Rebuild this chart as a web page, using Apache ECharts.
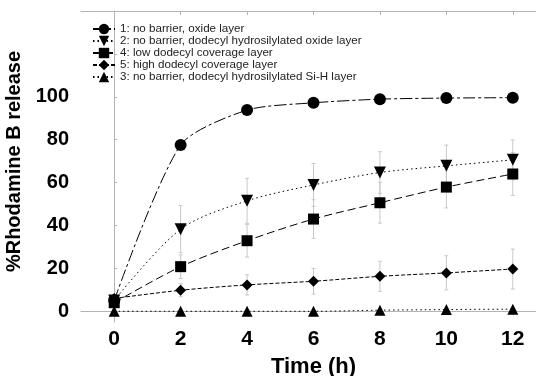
<!DOCTYPE html>
<html>
<head>
<meta charset="utf-8">
<script src="https://cdn.jsdelivr.net/npm/echarts@6/dist/echarts.min.js"></script>
<style>
  html, body { margin: 0; padding: 0; background: #fff; }
  #chart { width: 536px; height: 376px; }
</style>
</head>
<body>
<div id="chart"></div>
<script>
const times = [0, 2, 4, 6, 8, 10, 12];
const oxide = [5, 77.5, 93.8, 97.2, 98.9, 99.4, 99.6];
const dodecylOxide = [5, 38.3, 51.5, 58.9, 64.7, 67.8, 70.6];
const dodecylOxideErr = [0, 11, 10.5, 10, 9.7, 9.7, 9.3];
const lowCoverage = [4, 20.8, 32.9, 43, 50.6, 57.9, 64];
const lowCoverageErr = [0, 5.5, 7.6, 9, 9.5, 9.7, 10];
const highCoverage = [6, 9.8, 12.3, 14, 16.3, 17.9, 19.7];
const highCoverageErr = [0, 3, 4.7, 6, 7, 8, 9.3];
const siH = [0, 0, 0, 0, 0.5, 0.8, 1];
const xTicks = [0, 2, 4, 6, 8, 10, 12];
const yTicks = [0, 20, 40, 60, 80, 100, 120, 140];
const yLabels = [0, 20, 40, 60, 80, 100];

const axisGrey = "#b4b4b4";
const font = "Liberation Sans";

function pairs(values) {
  return times.map((t, i) => [t, values[i]]);
}

function errorSeries(values, errs) {
  return {
    type: "custom",
    silent: true,
    z: 1,
    data: times.map((t, i) => [t, values[i], errs[i]]),
    renderItem(params, api) {
      const x = api.value(0), y = api.value(1), e = api.value(2);
      if (!e) return null;
      const top = api.coord([x, y + e]);
      const bot = api.coord([x, y - e]);
      const style = { stroke: "#c8c8c8", lineWidth: 1 };
      return {
        type: "group",
        children: [
          { type: "line", shape: { x1: top[0], y1: top[1], x2: bot[0], y2: bot[1] }, style },
          { type: "line", shape: { x1: top[0] - 2, y1: top[1], x2: top[0] + 2, y2: top[1] }, style },
          { type: "line", shape: { x1: bot[0] - 2, y1: bot[1], x2: bot[0] + 2, y2: bot[1] }, style }
        ]
      };
    }
  };
}

function lineSeries(name, values, symbol, size, dash, extra) {
  return Object.assign({
    name,
    type: "line",
    z: 3,
    smooth: 0.3,
    symbol,
    symbolSize: size,
    data: pairs(values),
    itemStyle: { color: "#000" },
    lineStyle: { color: "#000", width: 1, type: dash }
  }, extra || {});
}

const chart = echarts.init(document.getElementById("chart"), null, { renderer: "canvas" });
chart.setOption({
  animation: false,
  backgroundColor: "#fff",
  grid: { left: 81, right: -10, top: 11, bottom: 54, outerBoundsMode: "none", containLabel: false },
  legend: {
    orient: "vertical",
    left: 87,
    top: 18,
    itemWidth: 22,
    itemHeight: 13,
    itemGap: 0,
    textStyle: { fontFamily: font, fontSize: 11.6, color: "#222" },
    data: [
      "1: no barrier, oxide layer",
      "2: no barrier, dodecyl hydrosilylated oxide layer",
      "4: low dodecyl coverage layer",
      "5: high dodecyl coverage layer",
      "3: no barrier, dodecyl hydrosilylated Si-H layer"
    ]
  },
  xAxis: [
    {
      type: "value",
      min: -1,
      max: 13,
      name: "Time (h)",
      nameLocation: "middle",
      nameGap: 34,
      nameTextStyle: { fontFamily: font, fontSize: 22, fontWeight: "bold", color: "#000" },
      axisLine: { lineStyle: { color: axisGrey } },
      axisTick: { customValues: xTicks, length: 4, lineStyle: { color: axisGrey } },
      axisLabel: { customValues: xTicks, margin: 7, fontFamily: font, fontSize: 21, fontWeight: "bold", color: "#000" },
      splitLine: { show: false }
    },
    {
      type: "value",
      position: "top",
      min: -1,
      max: 13,
      axisLine: { lineStyle: { color: axisGrey } },
      axisTick: { customValues: xTicks, inside: true, length: 4, lineStyle: { color: axisGrey } },
      axisLabel: { show: false },
      splitLine: { show: false }
    }
  ],
  yAxis: {
    type: "value",
    min: -5,
    max: 140,
    name: "%Rhodamine B release",
    nameLocation: "middle",
    nameGap: 44,
    nameTextStyle: { fontFamily: font, fontSize: 20, fontWeight: "bold", color: "#000", padding: [0, 0, 0, 10] },
    axisLine: { show: true, lineStyle: { color: axisGrey } },
    axisTick: { show: true, customValues: yTicks, inside: true, length: 3, lineStyle: { color: axisGrey } },
    axisLabel: { customValues: yLabels, margin: 12, fontFamily: font, fontSize: 20, fontWeight: "bold", color: "#000" },
    splitLine: { show: false }
  },
  series: [
    errorSeries(dodecylOxide, dodecylOxideErr),
    errorSeries(lowCoverage, lowCoverageErr),
    errorSeries(highCoverage, highCoverageErr),
    lineSeries("1: no barrier, oxide layer", oxide, "circle", 12, [12, 3, 3, 3], { smooth: 0.25 }),
    lineSeries("2: no barrier, dodecyl hydrosilylated oxide layer", dodecylOxide, "triangle", 12, [1.5, 3], { symbolRotate: 180 }),
    lineSeries("4: low dodecyl coverage layer", lowCoverage, "rect", 11, [8, 4]),
    lineSeries("5: high dodecyl coverage layer", highCoverage, "diamond", 11, [4, 2]),
    lineSeries("3: no barrier, dodecyl hydrosilylated Si-H layer", siH, "triangle", 11, [1.5, 3])
  ]
});
</script>
</body>
</html>
